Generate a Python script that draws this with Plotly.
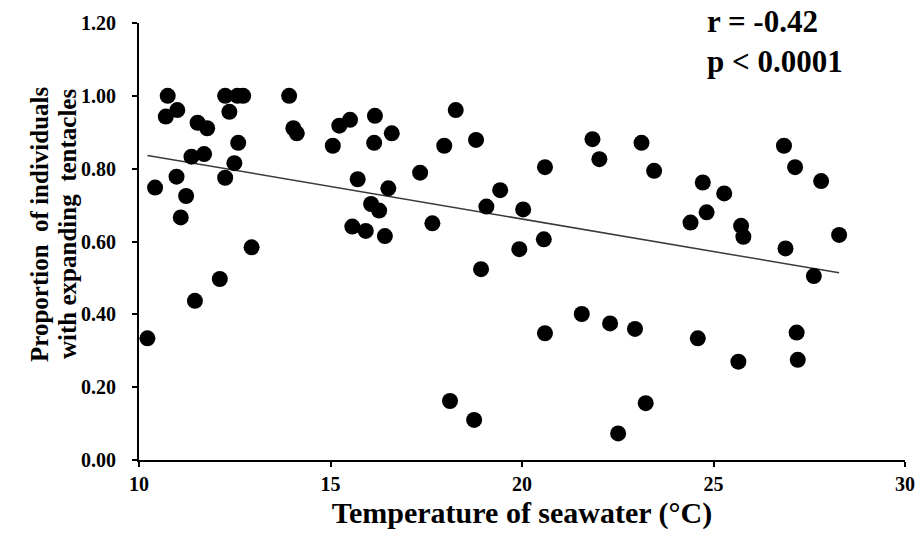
import numpy as np
import plotly.graph_objects as go

# Data
temperature = [10.22, 10.42, 10.70, 10.75, 10.98, 11.00, 11.09, 11.23, 11.37, 11.46,
               11.53, 11.70, 11.78, 12.11, 12.25, 12.25, 12.36, 12.49, 12.57, 12.59,
               12.72, 12.94, 13.92, 14.03, 14.12, 15.06, 15.23, 15.51, 15.57, 15.71,
               15.92, 16.06, 16.14, 16.16, 16.27, 16.42, 16.51, 16.60, 17.34, 17.66,
               17.97, 18.12, 18.27, 18.75, 18.80, 18.93, 19.07, 19.43, 19.93, 20.03,
               20.57, 20.60, 20.60, 21.56, 21.84, 22.02, 22.30, 22.51, 22.95, 23.12,
               23.23, 23.45, 24.40, 24.59, 24.72, 24.82, 25.28, 25.65, 25.72, 25.78,
               26.84, 26.88, 27.13, 27.17, 27.20, 27.62, 27.81, 28.28]
proportion = [0.334, 0.748, 0.943, 1.000, 0.778, 0.961, 0.666, 0.725, 0.833, 0.437,
              0.926, 0.840, 0.911, 0.497, 1.000, 0.775, 0.956, 0.815, 1.000, 0.871,
              1.000, 0.584, 1.000, 0.911, 0.897, 0.863, 0.918, 0.934, 0.641, 0.771,
              0.629, 0.703, 0.871, 0.945, 0.685, 0.615, 0.746, 0.897, 0.789, 0.650,
              0.863, 0.162, 0.961, 0.110, 0.879, 0.524, 0.696, 0.741, 0.579, 0.688,
              0.606, 0.804, 0.348, 0.401, 0.881, 0.826, 0.375, 0.073, 0.360, 0.871,
              0.156, 0.794, 0.652, 0.334, 0.762, 0.680, 0.732, 0.270, 0.643, 0.613,
              0.863, 0.581, 0.804, 0.350, 0.275, 0.505, 0.766, 0.618]
x_ticks = [10, 15, 20, 25, 30]
y_ticks = [0.0, 0.2, 0.4, 0.6, 0.8, 1.0, 1.2]
y_title_lines = ["Proportion  of individuals", "with expanding  tentacles"]
x_title = "Temperature of seawater (°C)"
stats_text = ["r = -0.42", "p < 0.0001"]

x = np.array(temperature)
y = np.array(proportion)
slope, intercept = np.polyfit(x, y, 1)
x_fit = np.array([x.min(), x.max()])
y_fit = slope * x_fit + intercept

FONT = "Liberation Serif"
L, R, T, B = 139, 13, 23, 81
W, H = 918, 541
PW, PH = W - L - R, H - T - B

fig = go.Figure()
fig.add_trace(go.Scatter(
    x=x_fit, y=y_fit, mode="lines",
    line=dict(color="#3a3a3a", width=1.5),
    hoverinfo="skip", showlegend=False))
fig.add_trace(go.Scatter(
    x=temperature, y=proportion, mode="markers",
    marker=dict(color="black", size=16, line=dict(width=0)),
    showlegend=False))

fig.update_layout(
    width=W, height=H,
    margin=dict(l=L, r=R, t=T, b=B),
    plot_bgcolor="white", paper_bgcolor="white",
    font=dict(family=FONT, color="black"),
    xaxis=dict(
        range=[10, 30], tickvals=x_ticks, ticktext=[str(v) for v in x_ticks],
        automargin=False,
        showgrid=False, zeroline=False,
        showline=True, linecolor="black", linewidth=2,
        ticks="outside", ticklen=5, tickwidth=2, tickcolor="black",
        ticklabelstandoff=0,
        tickfont=dict(family=FONT, size=20, color="black", weight="bold"),
        title=dict(text="<b>" + x_title + "</b>",
                   font=dict(family=FONT, size=30, color="black"), standoff=8),
    ),
    yaxis=dict(
        range=[0, 1.2], tickvals=y_ticks, ticktext=[f"{v:.2f}" for v in y_ticks],
        automargin=False,
        showgrid=False, zeroline=False,
        showline=True, linecolor="black", linewidth=2,
        ticks="outside", ticklen=5, tickwidth=2, tickcolor="black",
        ticklabelstandoff=12,
        tickfont=dict(family=FONT, size=20, color="black", weight="bold"),
    ),
)

# two-line y-axis title
for px_x, line in zip([40, 68], y_title_lines):
    fig.add_annotation(
        xref="paper", yref="paper",
        x=(px_x - L) / PW, y=(H - B - 224) / PH,
        xanchor="center", yanchor="middle", textangle=-90,
        text="<b>" + line + "</b>", showarrow=False,
        font=dict(family=FONT, size=25, color="black"))

# statistics
for px_y, line in zip([22, 61], stats_text):
    fig.add_annotation(
        xref="paper", yref="paper",
        x=(705 - L) / PW, y=(H - B - px_y) / PH,
        xanchor="left", yanchor="middle",
        text="<b>" + line + "</b>", showarrow=False,
        font=dict(family=FONT, size=31, color="black"))

fig.write_html("out.html",
               config={"displayModeBar": False},
               post_script="document.body.style.margin='0';document.body.style.padding='0';")
